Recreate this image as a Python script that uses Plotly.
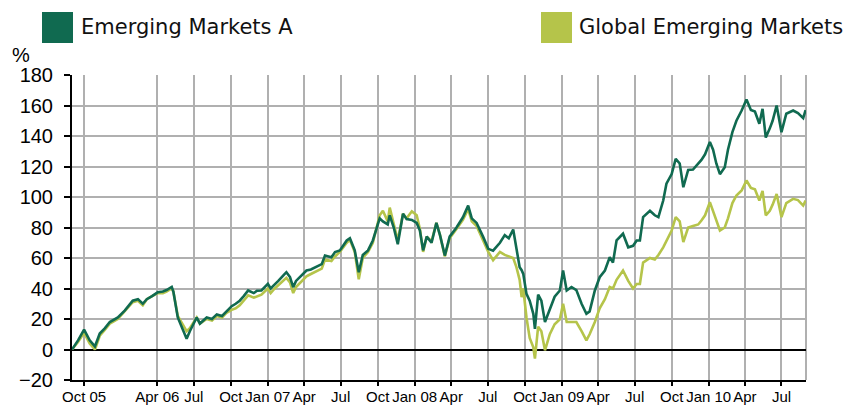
import plotly.graph_objects as go

dates = [
    "2005-09-01", "2005-09-16", "2005-10-01", "2005-10-15", "2005-10-28", "2005-11-09", "2005-11-22",
    "2005-12-04", "2005-12-24", "2006-01-10", "2006-01-30", "2006-02-12", "2006-02-24", "2006-03-06",
    "2006-03-19", "2006-04-02", "2006-04-15", "2006-04-24", "2006-05-07", "2006-05-11", "2006-05-22",
    "2006-06-01", "2006-06-13", "2006-06-21", "2006-07-03", "2006-07-08", "2006-07-16", "2006-08-02",
    "2006-08-15", "2006-08-27", "2006-09-09", "2006-09-20", "2006-10-03", "2006-10-13", "2006-10-23",
    "2006-11-02", "2006-11-13", "2006-11-27", "2006-12-05", "2006-12-16", "2007-01-01", "2007-01-08",
    "2007-01-18", "2007-01-27", "2007-02-08", "2007-02-16", "2007-02-25", "2007-03-05", "2007-03-12",
    "2007-03-26", "2007-04-07", "2007-04-18", "2007-04-28", "2007-05-15", "2007-05-23", "2007-06-08",
    "2007-06-17", "2007-06-29", "2007-07-16", "2007-07-24", "2007-08-05", "2007-08-15", "2007-08-25",
    "2007-09-07", "2007-09-19", "2007-10-06", "2007-10-14", "2007-10-26", "2007-10-31", "2007-11-10",
    "2007-11-20", "2007-12-03", "2007-12-12", "2007-12-25", "2008-01-06", "2008-01-14", "2008-01-22",
    "2008-01-31", "2008-02-12", "2008-02-24", "2008-03-04", "2008-03-16", "2008-03-28", "2008-04-14",
    "2008-04-30", "2008-05-13", "2008-05-22", "2008-06-03", "2008-06-19", "2008-07-02", "2008-07-14",
    "2008-07-31", "2008-08-12", "2008-08-22", "2008-09-02", "2008-09-10", "2008-09-18", "2008-09-23",
    "2008-09-27", "2008-10-05", "2008-10-13", "2008-10-22", "2008-10-26", "2008-11-03", "2008-11-11",
    "2008-11-20", "2008-12-02", "2008-12-14", "2008-12-27", "2009-01-04", "2009-01-13", "2009-01-25",
    "2009-02-06", "2009-02-19", "2009-03-03", "2009-03-11", "2009-03-24", "2009-04-05", "2009-04-18",
    "2009-04-30", "2009-05-08", "2009-05-17", "2009-06-02", "2009-06-15", "2009-06-27", "2009-07-06",
    "2009-07-14", "2009-07-22", "2009-08-08", "2009-08-20", "2009-08-29", "2009-09-10", "2009-09-18",
    "2009-10-01", "2009-10-11", "2009-10-21", "2009-10-30", "2009-11-11", "2009-11-23", "2009-12-06",
    "2009-12-14", "2009-12-23", "2010-01-04", "2010-01-12", "2010-01-20", "2010-01-29", "2010-02-10",
    "2010-02-18", "2010-03-01", "2010-03-11", "2010-03-24", "2010-04-05", "2010-04-16", "2010-04-26",
    "2010-05-07", "2010-05-15", "2010-05-23", "2010-06-02", "2010-06-09", "2010-06-19", "2010-07-01",
    "2010-07-13", "2010-07-30", "2010-08-11", "2010-08-24", "2010-08-30",
]

emerging_markets_a = [
    0, 6, 13, 6, 2, 10.5, 14,
    18, 21, 25.5, 32, 33, 30, 33,
    35, 37.5, 38, 39, 41, 38, 21,
    15, 7, 12, 18, 21, 17, 21,
    20, 23, 22, 25, 28.4, 30, 32,
    35, 38.7, 37, 38.5, 38.7, 43, 40,
    43, 45, 48.5, 50.7, 47.5, 40.9, 45,
    48.5, 51.8, 52.5, 54, 56, 61.6, 60.5,
    63.9, 65, 71.5, 73, 65, 50.7, 62,
    65, 71.5, 86, 84, 82, 88, 80,
    69, 89, 85.5, 85, 83, 78, 65,
    74, 70, 83, 75, 61.6, 74, 80,
    86.7, 94.4, 86, 83, 74, 66, 64.8,
    70, 75, 73, 78.7, 66.6, 54, 52,
    49.6, 36.5, 32, 23.4, 13.5, 36, 32,
    18, 27, 34.6, 38.7, 51.8, 38.7, 41,
    39, 30, 23.4, 25, 38.7, 47.4, 51.8,
    60.6, 57, 71.5, 75.9, 67, 68, 71.5,
    71.5, 86.8, 91, 88, 86.8, 97.7, 108.7,
    115, 125, 122, 106.4, 117.7, 118, 122,
    124.3, 128, 136, 131, 122, 115, 119.5,
    131, 142.5, 150, 156.7, 164, 157, 156,
    148, 157.8, 139, 145, 150, 160, 142.5,
    154.6, 156.7, 155, 151.7, 157,
]

global_emerging_markets = [
    0, 5, 11, 4, 0, 9, 13,
    17, 20, 25, 31, 32, 29, 33,
    35, 37, 37, 38, 40, 38, 22,
    17, 12, 14, 19, 21, 17, 20,
    19, 22, 21, 24, 26, 27, 29,
    32, 35.5, 34, 35, 36, 40, 37,
    40, 42, 45, 47, 44, 37, 41,
    45, 48, 49.5, 51, 53, 59, 58,
    61, 64, 70, 72, 64, 46, 60,
    64, 70, 88, 91, 84, 93, 82,
    71.5, 89, 86, 90.6, 88, 79, 64,
    74, 71, 83, 75, 61, 73, 79,
    85, 92, 84, 81, 72, 64, 58.6,
    64, 62, 61, 60, 54, 45.7, 34.3,
    40, 21, 7.6, 1.5, -6, 15, 12,
    -0.5, 10, 16.6, 19.8, 30, 18, 18,
    18, 12, 6, 10, 18, 27, 33,
    41, 40, 45.7, 51.8, 45, 40, 43,
    43, 57, 60, 59, 62, 67, 71.5,
    78, 86.8, 84, 70.4, 80, 81, 82,
    84.6, 88, 96.6, 91, 84, 78, 80,
    86, 96, 101, 104.3, 110.8, 106, 105,
    97.7, 104, 87.9, 91, 95, 102, 86.8,
    96, 98.8, 98, 94.4, 97.7,
]

series_names = ["Emerging Markets A", "Global Emerging Markets"]
series_colors = ["#106a50", "#b5c44a"]

tick_vals = [
    "2005-10-01", "2006-04-01", "2006-07-01", "2006-10-01", "2007-01-01", "2007-04-01",
    "2007-07-01", "2007-10-01", "2008-01-01", "2008-04-01", "2008-07-01", "2008-10-01",
    "2009-01-01", "2009-04-01", "2009-07-01", "2009-10-01", "2010-01-01", "2010-04-01",
    "2010-07-01",
]
tick_text = [
    "Oct 05", "Apr 06", "Jul", "Oct", "Jan 07", "Apr", "Jul", "Oct", "Jan 08", "Apr",
    "Jul", "Oct", "Jan 09", "Apr", "Jul", "Oct", "Jan 10", "Apr", "Jul",
]
y_ticks = [-20, 0, 20, 40, 60, 80, 100, 120, 140, 160, 180]

GRID = "#b0b0b0"

fig = go.Figure()
# global series first so the green series is drawn on top
for name, vals, col in [(series_names[1], global_emerging_markets, series_colors[1]),
                        (series_names[0], emerging_markets_a, series_colors[0])]:
    fig.add_trace(go.Scatter(x=dates, y=vals, mode="lines", name=name,
                             line=dict(color=col, width=2.6), showlegend=False,
                             hoverinfo="skip"))

W, H = 858, 405
L, R, T, B = 72, 52, 75, 25
pw = W - L - R
ph = H - T - B

def px_x(px):
    return (px - L) / pw

def px_y(py):
    return (H - B - py) / ph

fig.update_layout(
    width=W, height=H,
    margin=dict(l=L, r=R, t=T, b=B, autoexpand=False),
    paper_bgcolor="white", plot_bgcolor="white",
    font=dict(family="Liberation Sans, Arial, sans-serif", color="#000000"),
    xaxis=dict(
        type="date", range=["2005-09-01", "2010-08-31"],
        tickmode="array", tickvals=tick_vals, ticktext=tick_text, tickangle=0,
        automargin=False,
        showgrid=True, gridcolor=GRID, gridwidth=2,
        showline=True, linecolor="#000000", linewidth=2,
        ticks="outside", ticklen=4, tickwidth=2, tickcolor="#000000",
        tickfont=dict(size=15, family="Liberation Sans, Arial, sans-serif"),
        ticklabelstandoff=-2,
        zeroline=False,
    ),
    yaxis=dict(
        range=[-20, 180], tickmode="array", tickvals=y_ticks,
        automargin=False,
        showgrid=True, gridcolor=GRID, gridwidth=2,
        showline=True, linecolor="#000000", linewidth=2,
        ticks="outside", ticklen=6, tickwidth=2, tickcolor="#000000",
        tickfont=dict(size=20, family="Liberation Sans, Arial, sans-serif"),
        ticklabelstandoff=7,
        zeroline=True, zerolinecolor="#000000", zerolinewidth=2,
    ),
)

# right frame gridline
fig.add_shape(type="line", xref="paper", yref="paper", x0=1, x1=1, y0=0, y1=1,
              line=dict(color=GRID, width=2), layer="below")

# legend squares and labels
leg = [(42, 81), (541, 579)]
for (sx, tx), name, col in zip(leg, series_names, series_colors):
    fig.add_shape(type="rect", xref="paper", yref="paper",
                  x0=px_x(sx), x1=px_x(sx + 31), y0=px_y(43), y1=px_y(12),
                  fillcolor=col, line=dict(width=0))
    fig.add_annotation(xref="paper", yref="paper", x=px_x(tx - 2), y=px_y(27),
                       xanchor="left", yanchor="middle", showarrow=False,
                       text=name, font=dict(family="DejaVu Sans", size=21, color="#111111"))

fig.add_annotation(xref="paper", yref="paper", x=px_x(21), y=px_y(55),
                   xanchor="center", yanchor="middle", showarrow=False,
                   text="%", font=dict(family="Liberation Sans, Arial", size=20, color="#000000"))

fig.write_html("out.html", config={"displayModeBar": False},
               post_script="document.body.style.margin='0';document.body.style.overflow='hidden';")
